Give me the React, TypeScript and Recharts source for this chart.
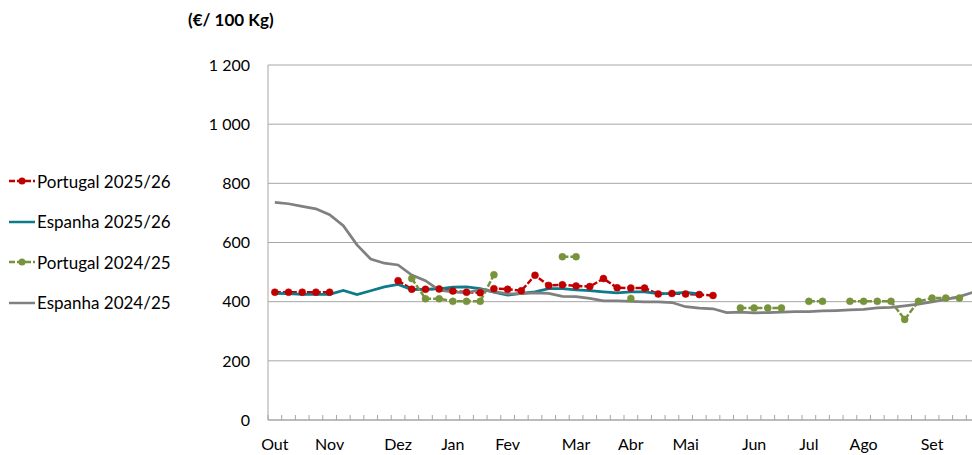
import React from 'react';
import { LineChart, Line, XAxis, YAxis, CartesianGrid } from 'recharts';

// weekly prices, €/100 kg, week 0 = first week of October
const portugal2526 = [
  432, 432, 432, 432, 432, null, null, null, null, 471, 442, 442, 443, 436, 432, 430, 444, 442, 437, 489,
  455, 457, 453, 451, 478, 447, 446, 446, 426, 428, 426, 424, 421, null, null, null, null, null, null, null,
  null, null, null, null, null, null, null, null, null, null, null, null,
];
const espanha2526 = [
  428, 427, 425, 425, 425, 438, 424, 437, 450, 458, 441, 442, 443, 449, 450, 444, 432, 422, 428, 433,
  444, 444, 440, 437, 433, 430, 433, 433, 427, 428, 431, 426, null, null, null, null, null, null, null, null,
  null, null, null, null, null, null, null, null, null, null, null, null,
];
const portugal2425 = [
  null, null, null, null, null, null, null, null, null, null, 478, 410, 410, 401, 401, 401, 491, null, null, null,
  null, 552, 552, null, null, null, 411, null, null, null, null, null, null, null, 379, 379, 379, 379, null, 401,
  401, null, 401, 401, 401, 401, 340, 401, 412, 412, 412, null,
];
const espanha2425 = [
  736, 731, 722, 714, 694, 657, 592, 544, 530, 524, 490, 471, 439, 433, 430, 441, 434, 426, 427, 430,
  428, 418, 417, 411, 403, 403, 401, 399, 399, 397, 383, 378, 376, 363, 365, 362, 363, 365, 366, 366,
  369, 370, 372, 374, 379, 381, 386, 392, 399, 408, 417, 432,
];

const monthLabels = ['Out', 'Nov', 'Dez', 'Jan', 'Fev', 'Mar', 'Abr', 'Mai', 'Jun', 'Jul', 'Ago', 'Set'];
const monthWeeks = [0, 4, 9, 13, 17, 22, 26, 30, 35, 39, 43, 48];
const yTicks = [0, 200, 400, 600, 800, 1000, 1200];

const RED = '#C00000';
const TEAL = '#0E7A8B';
const GREEN = '#77933C';
const GREY = '#808080';
const AXIS = '#A6A6A6';
const FONT = 'Lato, "Open Sans", sans-serif';

const data = espanha2425.map((_, i) => ({
  x: i + 0.5,
  portugal2526: portugal2526[i],
  espanha2526: espanha2526[i],
  portugal2425: portugal2425[i],
  espanha2425: espanha2425[i],
}));

const boundaryTicks = espanha2425.map((_, i) => i).concat([espanha2425.length]);
const xTicks = [...boundaryTicks, ...monthWeeks.map((w) => w + 0.5)].sort((a, b) => a - b);

const fmtY = (v: number) => (v >= 1000 ? `${Math.floor(v / 1000)} ${String(v % 1000).padStart(3, '0')}` : String(v));

const XTick = (props: any) => {
  const { x, y, payload } = props;
  const v = payload.value;
  if (Number.isInteger(v)) {
    return <line x1={x} x2={x} y1={y - 5} y2={y} stroke={AXIS} strokeWidth={1} />;
  }
  const idx = monthWeeks.indexOf(v - 0.5);
  return (
    <text x={x} y={y + 24} dy="0.355em" textAnchor="middle" fontFamily={FONT} fontSize={16} fill="#000">
      {monthLabels[idx]}
    </text>
  );
};

const legendItems = [
  { name: 'Portugal 2025/26', color: RED, dashed: true },
  { name: 'Espanha 2025/26', color: TEAL, dashed: false },
  { name: 'Portugal 2024/25', color: GREEN, dashed: true },
  { name: 'Espanha 2024/25', color: GREY, dashed: false },
];

export default function App() {
  return (
    <div style={{ position: 'absolute', left: 0, top: 0, width: 972, height: 455, overflow: 'hidden', background: '#fff' }}>
      <div
        style={{
          position: 'absolute',
          left: 188,
          top: 10,
          fontFamily: FONT,
          fontWeight: 700,
          fontSize: 17,
          lineHeight: '20px',
          color: '#000',
          whiteSpace: 'nowrap',
        }}
      >
        (€/ 100 Kg)
      </div>

      {legendItems.map((item, i) => (
        <div
          key={item.name}
          style={{
            position: 'absolute',
            left: 9,
            top: 171 + i * 40.6,
            height: 20,
            display: 'flex',
            alignItems: 'center',
            fontFamily: FONT,
            fontSize: 17,
            color: '#000',
            whiteSpace: 'nowrap',
          }}
        >
          <svg width={26} height={20} style={{ marginRight: 2 }}>
            <line
              x1={0}
              x2={26}
              y1={10}
              y2={10}
              stroke={item.color}
              strokeWidth={2.5}
              strokeDasharray={item.dashed ? '6 2' : undefined}
            />
            {item.dashed && <circle cx={13} cy={10} r={3.5} fill={item.color} />}
          </svg>
          {item.name}
        </div>
      ))}

      <LineChart width={990} height={455} data={data} margin={{ top: 65, right: 10, left: 0, bottom: 0 }}>
        <CartesianGrid horizontal vertical={false} stroke={AXIS} strokeWidth={1} />
        <XAxis
          dataKey="x"
          type="number"
          domain={[0, 52]}
          ticks={xTicks}
          interval={0}
          tick={<XTick />}
          tickLine={false}
          tickSize={0}
          tickMargin={0}
          height={35}
          axisLine={{ stroke: AXIS, strokeWidth: 1 }}
          allowDataOverflow
        />
        <YAxis
          type="number"
          domain={[0, 1200]}
          ticks={yTicks}
          tickFormatter={fmtY}
          width={268}
          tickLine={false}
          tickSize={0}
          tickMargin={18}
          axisLine={{ stroke: AXIS, strokeWidth: 1 }}
          tick={{ fontFamily: FONT, fontSize: 16, fill: '#000' }}
        />
        <Line
          dataKey="portugal2526"
          stroke={RED}
          strokeWidth={2.5}
          strokeDasharray="6 2"
          dot={{ r: 3.5, fill: RED, stroke: RED, strokeWidth: 0.5, strokeDasharray: '' }}
          activeDot={false}
          isAnimationActive={false}
        />
        <Line
          dataKey="espanha2526"
          stroke={TEAL}
          strokeWidth={2.75}
          dot={false}
          activeDot={false}
          isAnimationActive={false}
        />
        <Line
          dataKey="portugal2425"
          stroke={GREEN}
          strokeWidth={2.5}
          strokeDasharray="6 2"
          dot={{ r: 3.5, fill: GREEN, stroke: GREEN, strokeWidth: 0.5, strokeDasharray: '' }}
          activeDot={false}
          isAnimationActive={false}
        />
        <Line
          dataKey="espanha2425"
          stroke={GREY}
          strokeWidth={2.75}
          dot={false}
          activeDot={false}
          isAnimationActive={false}
        />
      </LineChart>
    </div>
  );
}
